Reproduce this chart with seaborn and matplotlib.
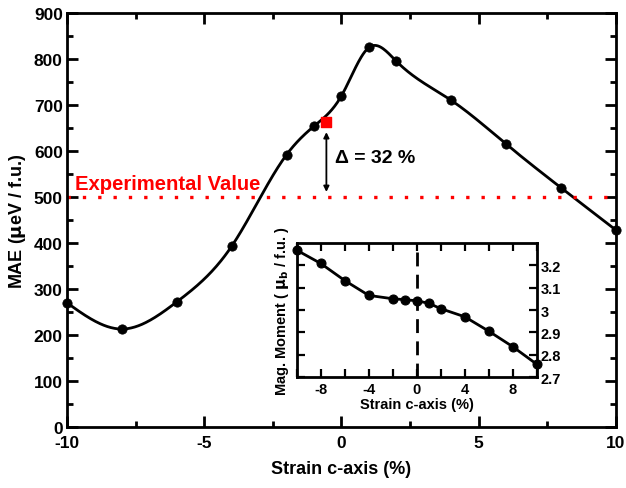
import numpy as np
import pandas as pd
import seaborn as sns
import matplotlib
matplotlib.use("Agg")
import matplotlib.pyplot as plt
from matplotlib.ticker import MultipleLocator

strain = [-10, -8, -6, -4, -2, -1, 0, 1, 2, 4, 6, 8, 10]
mae = [270, 213, 272, 393, 592, 654, 720, 825, 795, 710, 615, 520, 428]
mag_moment = [3.266, 3.207, 3.131, 3.065, 3.050, 3.046, 3.041, 3.030, 3.006, 2.970, 2.906, 2.837, 2.759]
exp_value = 500
exp_point_x = -0.55
exp_point_y = 662
delta_label = "Δ = 32 %"

sns.set_theme(style="ticks")
plt.rcParams['font.family'] = ['Liberation Sans', 'DejaVu Sans']
plt.rcParams['font.weight'] = 'bold'
plt.rcParams['mathtext.default'] = 'regular'
plt.rcParams['axes.unicode_minus'] = False
for k in ['text.color', 'axes.labelcolor', 'xtick.color', 'ytick.color', 'axes.edgecolor']:
    plt.rcParams[k] = 'black'


def natural_spline(x, y, n=600):
    x = np.asarray(x, float); y = np.asarray(y, float)
    k = len(x)
    h = np.diff(x)
    A = np.zeros((k, k)); b = np.zeros(k)
    A[0, 0] = 1; A[-1, -1] = 1
    for i in range(1, k - 1):
        A[i, i - 1] = h[i - 1]
        A[i, i] = 2 * (h[i - 1] + h[i])
        A[i, i + 1] = h[i]
        b[i] = 6 * ((y[i + 1] - y[i]) / h[i] - (y[i] - y[i - 1]) / h[i - 1])
    M = np.linalg.solve(A, b)
    xs = np.linspace(x[0], x[-1], n)
    idx = np.clip(np.searchsorted(x, xs) - 1, 0, k - 2)
    x0, x1 = x[idx], x[idx + 1]
    hh = x1 - x0
    t0 = x1 - xs; t1 = xs - x0
    ys = (M[idx] * t0**3 / (6 * hh) + M[idx + 1] * t1**3 / (6 * hh)
          + (y[idx] / hh - M[idx] * hh / 6) * t0
          + (y[idx + 1] / hh - M[idx + 1] * hh / 6) * t1)
    return xs, ys


fig = plt.figure(figsize=(6.26, 4.89), dpi=100)
ax = fig.add_axes([0.107, 0.1247, 0.877, 0.8467])

xs, ys = natural_spline(strain, mae)
sm = pd.DataFrame({"x": xs, "y": ys})
df = pd.DataFrame({"x": strain, "y": mae})
sns.lineplot(data=sm, x="x", y="y", ax=ax, color="black", lw=2, sort=False)
sns.scatterplot(data=df, x="x", y="y", ax=ax, color="black", s=45, edgecolor="black", zorder=5, clip_on=False)
ax.axhline(exp_value, color="red", ls=(0, (1, 3.6)), lw=2.4)
ax.scatter([exp_point_x], [exp_point_y], marker="s", color="red", s=50, zorder=6)
ax.annotate("", xy=(exp_point_x, exp_value + 5), xytext=(exp_point_x, exp_point_y - 15),
            arrowprops=dict(arrowstyle="<|-|>", color="black", lw=1.3, mutation_scale=8))
ax.text(exp_point_x + 0.3, 585, delta_label, fontsize=14, fontweight="bold", ha="left", va="center")
ax.text(-9.7, 508, "Experimental Value", color="red", fontsize=14.6, fontweight="bold", ha="left", va="bottom")

ax.set_xlim(-10, 10)
ax.set_ylim(0, 900)
ax.xaxis.set_major_locator(MultipleLocator(5))
ax.xaxis.set_minor_locator(MultipleLocator(2.5))
ax.yaxis.set_major_locator(MultipleLocator(100))
ax.yaxis.set_minor_locator(MultipleLocator(50))
ax.tick_params(which="both", direction="in", top=True, right=True, width=2, labelsize=12.5)
ax.tick_params(axis="x", pad=6)
ax.tick_params(axis="y", pad=3)
ax.tick_params(which="major", length=8)
ax.tick_params(which="minor", length=4)
for lab in ax.get_xticklabels() + ax.get_yticklabels():
    lab.set_fontweight("bold")
for s in ax.spines.values():
    s.set_linewidth(2)
ax.set_xlabel("Strain c-axis (%)", fontsize=13, fontweight="bold", labelpad=7)
ax.set_ylabel("MAE ($\\mathbf{\\mu}$eV / f.u.)", fontsize=13, fontweight="bold", labelpad=4)

ins = fig.add_axes([0.474, 0.226, 0.3834, 0.276])
di = pd.DataFrame({"x": strain, "y": mag_moment})
sns.lineplot(data=di, x="x", y="y", ax=ins, color="black", lw=2, marker="o", markersize=6.5,
             markeredgecolor="black", clip_on=False)
ins.axvline(0, color="black", ls=(0, (5, 3)), lw=2)
ins.set_xlim(-10, 10)
ins.set_ylim(2.7, 3.3)
ins.xaxis.set_minor_locator(MultipleLocator(2))
ins.set_xticks([-8, -4, 0, 4, 8])
ins.yaxis.tick_right()
ins.yaxis.set_label_position("left")
ins.tick_params(which="both", direction="in", top=True, left=True, right=True, width=1.6, labelsize=10.5, pad=3)
ins.tick_params(which="major", length=6)
ins.tick_params(which="minor", length=6)
ins.set_yticks([2.7, 2.8, 2.9, 3.0, 3.1, 3.2])
ins.set_yticklabels(["2.7", "2.8", "2.9", "3", "3.1", "3.2"])
for lab in ins.get_xticklabels() + ins.get_yticklabels():
    lab.set_fontweight("bold")
for s in ins.spines.values():
    s.set_linewidth(2)
ins.set_xlabel("Strain c-axis (%)", fontsize=10.5, fontweight="bold", labelpad=1)
ins.set_ylabel("Mag. Moment ( $\\mathbf{\\mu_b}$ / f.u. )", fontsize=10.5, fontweight="bold", labelpad=4)

fig.savefig("out.png", dpi=100)
